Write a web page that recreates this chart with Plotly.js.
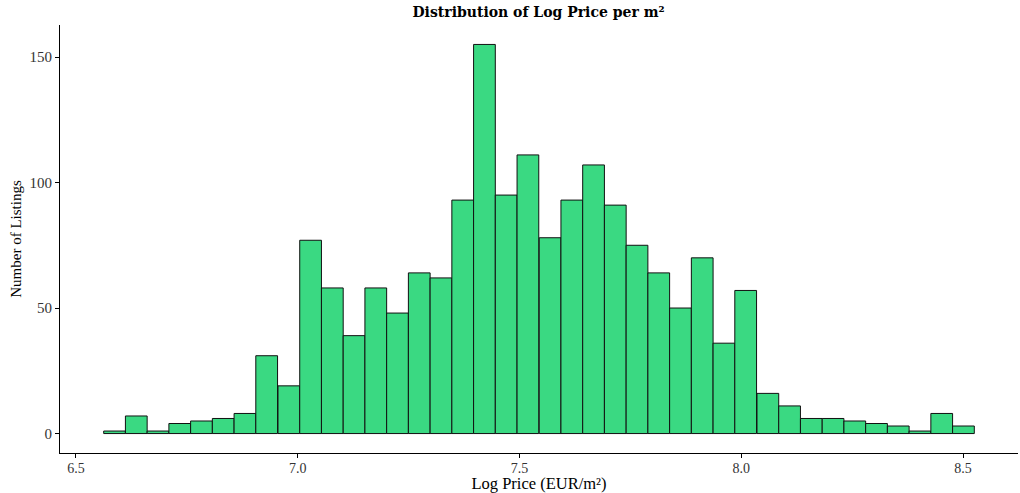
<!DOCTYPE html>
<html>
<head>
<meta charset="utf-8">
<script src="https://cdn.plot.ly/plotly-3.0.1.min.js"></script>
<style>
  html, body { margin: 0; padding: 0; background: #fff; }
  #chart { width: 1020px; height: 493px; }
</style>
</head>
<body>
<div id="chart"></div>
<script>
// Histogram of log price per m² (bin centres and listing counts per bin)
const binCenters = [
  6.587, 6.636, 6.685, 6.734, 6.783, 6.832, 6.881, 6.930, 6.980, 7.029,
  7.078, 7.127, 7.176, 7.225, 7.274, 7.323, 7.372, 7.421, 7.470, 7.519,
  7.569, 7.618, 7.667, 7.716, 7.765, 7.814, 7.863, 7.912, 7.961, 8.010,
  8.060, 8.109, 8.158, 8.207, 8.256, 8.305, 8.354, 8.403, 8.452, 8.501
];
const listingCounts = [
  1, 7, 1, 4, 5, 6, 8, 31, 19, 77,
  58, 39, 58, 48, 64, 62, 93, 155, 95, 111,
  78, 93, 107, 91, 75, 64, 50, 70, 36, 57,
  16, 11, 6, 6, 5, 4, 3, 1, 8, 3
];
const xTicks = [6.5, 7.0, 7.5, 8.0, 8.5];
const xTickLabels = ['6.5', '7.0', '7.5', '8.0', '8.5'];
const yTicks = [0, 50, 100, 150];

const serif = 'Liberation Serif, Times New Roman, serif';
const heavySerif = 'DejaVu Serif, serif';

const trace = {
  type: 'bar',
  x: binCenters,
  y: listingCounts,
  marker: { color: '#3AD982', line: { color: '#111', width: 1 } },
  hoverinfo: 'x+y'
};

const layout = {
  width: 1020,
  height: 493,
  margin: { l: 60, r: 2, t: 25, b: 40 },
  paper_bgcolor: '#fff',
  plot_bgcolor: '#fff',
  bargap: 0,
  showlegend: false,
  font: { family: serif, color: '#000' },
  title: {
    text: '<b>Distribution of Log Price per m²</b>',
    font: { family: heavySerif, size: 14, color: '#000' },
    x: 0.528, xanchor: 'center',
    y: 0.976, yanchor: 'middle'
  },
  xaxis: {
    range: [6.464, 8.624],
    tickvals: xTicks,
    ticktext: xTickLabels,
    ticks: 'outside', ticklen: 4, tickcolor: '#000', tickwidth: 1,
    ticklabelstandoff: -2,
    showline: true, linecolor: '#000', linewidth: 1,
    showgrid: false, zeroline: false,
    tickfont: { family: serif, size: 14, color: '#333' },
    title: { text: 'Log Price (EUR/m²)', font: { family: serif, size: 16.5, color: '#000' }, standoff: 2 }
  },
  yaxis: {
    range: [-7.75, 162.75],
    tickvals: yTicks,
    ticks: 'outside', ticklen: 4, tickcolor: '#000', tickwidth: 1,
    showline: true, linecolor: '#000', linewidth: 1,
    showgrid: false, zeroline: false,
    tickfont: { family: serif, size: 15, color: '#333' },
    title: { text: 'Number of Listings', font: { family: serif, size: 15, color: '#000' }, standoff: 4 }
  }
};

Plotly.newPlot('chart', [trace], layout, { displayModeBar: false, staticPlot: true });
</script>
</body>
</html>
